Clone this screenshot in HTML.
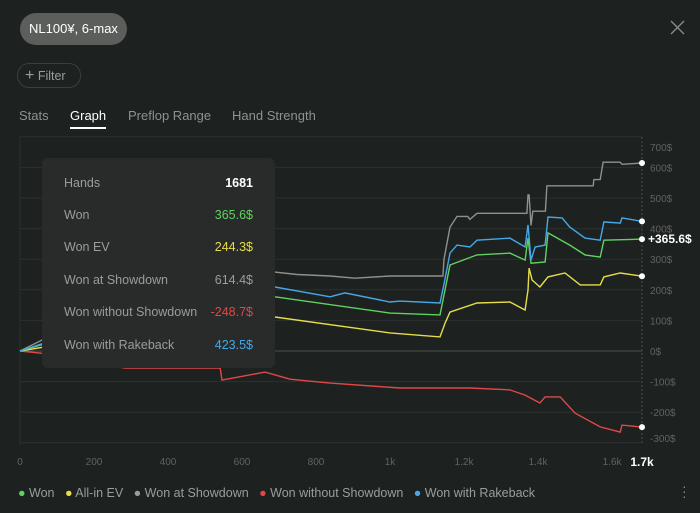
<!DOCTYPE html>
<html><head><meta charset="utf-8"><style>
body{margin:0;width:700px;height:513px;background:#1d211f;font-family:"Liberation Sans","Noto Sans CJK SC",sans-serif;overflow:hidden;position:relative;color:#9a9d9b}
.abs{position:absolute}
.pill{left:20px;top:13px;width:107px;height:32px;border-radius:16px;background:#5b5e5b;color:#fff;font-size:13px;line-height:32px;text-align:center}
.filter{left:17px;top:63px;width:62px;height:23px;border:1px solid #3a3e3c;border-radius:12px;font-size:12.5px;line-height:23px;color:#9a9d9b}
.tab{top:108px;font-size:13px;color:#8e918f}
.tip{left:42px;top:158px;width:233px;height:210px;background:#292a2a;border-radius:6px;font-size:12.5px}
.row{position:absolute;left:22px;right:22px;height:16px}
.row span:last-child{position:absolute;right:0}
</style></head><body>
<div class="abs pill">NL100¥, 6-max</div>
<svg class="abs" style="left:670px;top:20px" width="15" height="15"><path d="M1 1L14 14M14 1L1 14" stroke="#8a8d8b" stroke-width="1.3"/></svg>
<div class="abs filter"><span style="font-size:16px;margin-left:7px">+</span> Filter</div>
<div class="abs tab" style="left:19px">Stats</div>
<div class="abs tab" style="left:70px;color:#fff">Graph<div style="height:2px;background:#fff;margin-top:4px"></div></div>
<div class="abs tab" style="left:128px">Preflop Range</div>
<div class="abs tab" style="left:232px">Hand Strength</div>

<svg class="abs" style="left:0;top:0" width="700" height="513" id="chart"></svg>

<div class="abs tip">
<div class="row" style="top:18px"><span>Hands</span><span style="color:#fff;font-weight:bold">1681</span></div>
<div class="row" style="top:50px"><span>Won</span><span style="color:#5fd35f">365.6$</span></div>
<div class="row" style="top:82px"><span>Won EV</span><span style="color:#e5de4a">244.3$</span></div>
<div class="row" style="top:115px"><span>Won at Showdown</span><span style="color:#9a9d9b">614.4$</span></div>
<div class="row" style="top:147px"><span>Won without Showdown</span><span style="color:#e04848">-248.7$</span></div>
<div class="row" style="top:180px"><span>Won with Rakeback</span><span style="color:#45a8e8">423.5$</span></div>
</div>

<div class="abs" style="left:18px;top:486px;font-size:12.5px;white-space:nowrap">
<span><span style="color:#5fd35f">●</span> Won</span>&nbsp;&nbsp;
<span><span style="color:#e5de4a">●</span> All-in EV</span>&nbsp;&nbsp;
<span><span style="color:#9a9d9b">●</span> Won at Showdown</span>&nbsp;&nbsp;
<span><span style="color:#e04848">●</span> Won without Showdown</span>&nbsp;&nbsp;
<span><span style="color:#45a8e8">●</span> Won with Rakeback</span>
</div>
<div class="abs" style="left:682px;top:484px;font-size:14px;line-height:5px;color:#888">·<br>·<br>·</div>

<script>
const xTicks=[0,200,400,600,800,1000,1200,1400,1600];
const xTickLabels=["0","200","400","600","800","1k","1.2k","1.4k","1.6k"];
const yTicks=[700,600,500,400,300,200,100,0,-100,-200,-300];
const showdownX=[0,100,300,500,689,749,838,905,1000,1143,1146,1162,1181,1210,1216,1235,1370,1373,1376,1381,1386,1420,1424,1549,1551,1568,1576,1622,1627,1681];
const showdownY=[0,60,150,220,258,250,245,238,245,245,300,405,440,440,430,450,450,510,510,410,457,457,540,540,560,560,617,617,610,614.4];
const rakeX=[0,100,300,500,689,838,878,1000,1027,1135,1146,1162,1181,1216,1235,1324,1365,1373,1381,1392,1419,1427,1465,1486,1527,1568,1578,1622,1627,1681];
const rakeY=[0,40,110,170,209,177,190,160,163,157,219,320,346,340,362,369,340,412,297,340,346,438,435,405,369,362,422,418,435,423.5];
const wonX=[0,100,300,500,689,1000,1135,1162,1235,1324,1365,1373,1381,1419,1427,1486,1527,1568,1578,1681];
const wonY=[0,35,100,150,177,124,118,281,314,320,297,369,287,291,386,346,314,307,362,365.6];
const evX=[0,100,300,500,689,1000,1135,1149,1162,1235,1324,1365,1373,1376,1384,1405,1427,1473,1514,1568,1578,1622,1681];
const evY=[0,20,60,90,111,59,46,92,127,157,160,134,199,271,232,209,242,255,216,216,242,255,244.3];
const nsdX=[0,54,284,541,546,662,730,838,1027,1216,1324,1365,1405,1419,1460,1500,1568,1622,1627,1681];
const nsdY=[0,-7,-56,-56,-95,-69,-92,-105,-121,-121,-127,-144,-170,-150,-150,-203,-248,-265,-242,-248.7];
const svg=document.getElementById('chart');
const NS='http://www.w3.org/2000/svg';
const X0=20,X1=642,XMAX=1681,Y0=351,PY=0.306;
const sx=v=>X0+(X1-X0)*v/XMAX;
const sy=v=>Y0-v*PY;
function mk(t,a){const e=document.createElementNS(NS,t);for(const k in a)e.setAttribute(k,a[k]);svg.appendChild(e);return e;}
yTicks.forEach(v=>{
  const l=mk('line',{x1:X0,x2:X1,y1:sy(v),y2:sy(v),stroke:v===0?'#4a4e4c':'#2c302e','stroke-width':1});
  
  
  const ly=Math.min(Math.max(sy(v),147),438)+4;
  const t=mk('text',{x:650,y:ly,fill:'#5f6361','font-size':10});
  t.textContent=v+'$';
  
  
});
mk('line',{x1:X0,x2:X0,y1:137,y2:444,stroke:'#2c302e'});
mk('line',{x1:X1,x2:X1,y1:137,y2:444,stroke:'#4a4e4c','stroke-dasharray':'2,2'});
xTicks.forEach((v,i)=>{
  const t=mk('text',{x:sx(v),y:465,fill:'#5f6361','font-size':10,'text-anchor':'middle'});
  t.textContent=xTickLabels[i];
  
  
});
const lt=mk('text',{x:sx(XMAX),y:466,fill:'#fff','font-size':12,'font-weight':'bold','text-anchor':'middle'});
lt.textContent='1.7k';


function series(xs,ys,color,name){
  let d='';
  xs.forEach((x,i)=>{d+=(i?'L':'M')+sx(x).toFixed(1)+','+sy(ys[i]).toFixed(1);});
  const p=mk('path',{d:d,fill:'none',stroke:color,'stroke-width':1.4});
  
  
  const c=mk('circle',{cx:sx(xs[xs.length-1]),cy:sy(ys[ys.length-1]),r:3,fill:'#fff'});
  
  
}
series(showdownX,showdownY,'#8e918f','showdown-line');
series(nsdX,nsdY,'#e04848','no-showdown-line');
series(evX,evY,'#e5de4a','allin-ev-line');
series(wonX,wonY,'#5fd35f','won-line');
series(rakeX,rakeY,'#45a8e8','rakeback-line');
const vl=mk('text',{x:648,y:sy(wonY[wonY.length-1])+4,fill:'#fff','font-size':12,'font-weight':'bold'});
vl.textContent='+365.6$';


</script>
</body></html>
